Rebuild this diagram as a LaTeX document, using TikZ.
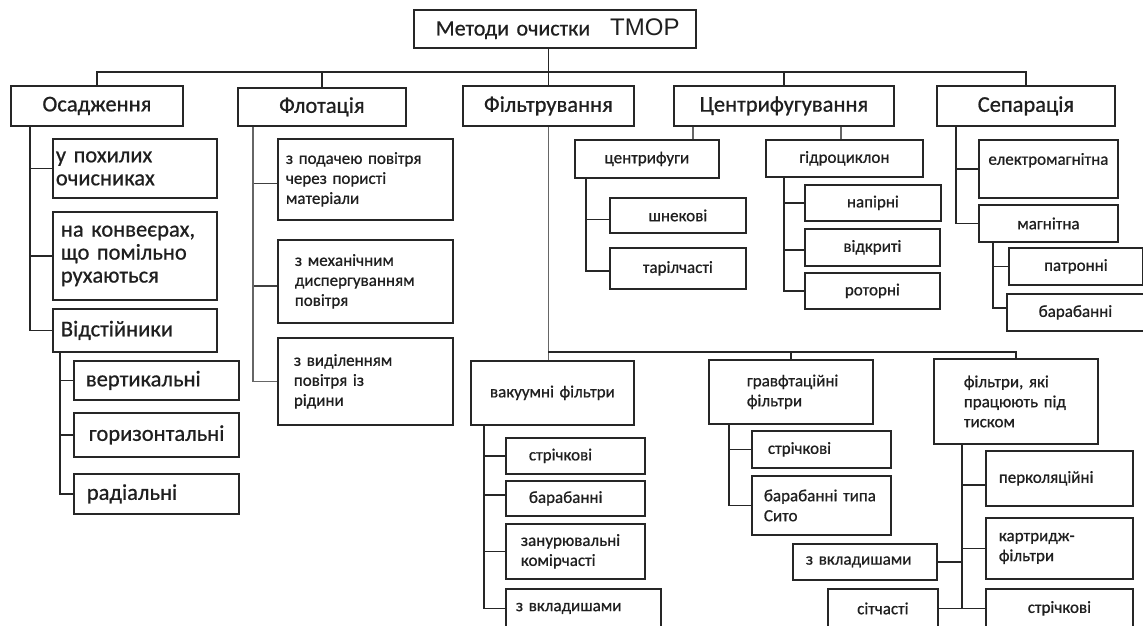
\documentclass[tikz,border=0pt]{standalone}
\usepackage{fontspec}
\setmainfont[FakeBold=0.7]{Carlito}
\newfontfamily\tmorfont{Liberation Sans}
\tikzset{
  box/.style={draw=black!85, line width=1.8pt, inner ysep=0pt, text=black!88, align=left},
  ctr/.style={align=center},
  big/.style={font=\fontsize{22.5}{23}\selectfont},
  sm/.style={font=\fontsize{17}{20}\selectfont},
  ln/.style={draw=black!85, line width=1.8pt},
  lg/.style={draw=black!60, line width=1.5pt},
}
\newcommand\mybox[8][]{%
  \pgfmathsetmacro\bxw{#5-#3}%
  \pgfmathsetmacro\bxh{#6-#4}%
  \pgfmathsetmacro\bxt{#5-#3-2*#7}%
  \node[box,#1,minimum width=\bxw pt,minimum height=\bxh pt,inner xsep=#7pt,text width=\bxt pt,anchor=north west] (#2) at (#3,#4) {#8};}
\begin{document}
\begin{tikzpicture}[x=1pt,y=-1pt]
\useasboundingbox (0,0) rectangle (1143,625);
\clip (0,0) rectangle (1143,625);
\fill[white] (0,0) rectangle (1143,625);
% top
\mybox[big]{top}{413}{9}{695}{47}{22}{\mbox{{\fontsize{22}{23}\selectfont Методи очистки}\hspace{20pt}{\tmorfont\fontsize{24}{26}\selectfont ТМОР}}}
% level 1
\mybox[big,ctr]{osad}{10}{85}{182}{125}{4}{Осадження}
\mybox[big,ctr]{flot}{237}{87}{405}{125}{4}{Флотація}
\mybox[big,ctr]{filt}{462}{85}{633}{125}{4}{Фільтрування}
\mybox[big,ctr]{centr}{673}{85}{893}{125}{2}{\mbox{Центрифугування}}
\mybox[big,ctr]{sep}{936}{85}{1114}{125}{4}{Сепарація}
% Osadzhennia
\mybox[big]{c1}{52}{138}{216}{197}{3}{\mbox{у похилих}\\очисниках}
\mybox[big]{c2}{52}{211}{216}{299}{8}{\mbox{на конвеєрах,}\\\mbox{що помільно}\\рухаються}
\mybox[big]{c3}{52}{308}{216}{351}{8}{Відстійники}
\mybox[big]{v1}{73}{360}{238}{399}{12}{вертикальні}
\mybox[big]{v2}{73}{412}{238}{456}{15}{\mbox{горизонтальні}}
\mybox[big]{v3}{73}{473}{238}{513}{13}{радіальні}
% Flotatsiia
\mybox[sm]{f1}{277}{138}{452}{219}{8}{\mbox{з подачею повітря}\\\mbox{через пористі}\\матеріали}
\mybox[sm]{f2}{277}{239}{452}{322}{17}{\mbox{з механічним}\\\mbox{диспергуванням}\\повітря}
\mybox[sm]{f3}{277}{337}{452}{424}{16}{\mbox{з виділенням}\\\mbox{повітря із}\\рідини}
% Tsentryfuguvannia
\mybox[sm,ctr]{cf}{574}{139}{718}{177}{4}{центрифуги}
\mybox[sm,ctr]{cf1}{609}{197}{745}{232}{4}{шнекові}
\mybox[sm,ctr]{cf2}{609}{247}{745}{288}{4}{тарілчасті}
\mybox[sm,ctr]{hc}{765}{139}{922}{176}{4}{гідроциклон}
\mybox[sm,ctr]{hc1}{804}{184}{940}{220}{4}{напірні}
\mybox[sm,ctr]{hc2}{804}{228}{939}{265}{4}{відкриті}
\mybox[sm,ctr]{hc3}{804}{272}{939}{308}{4}{роторні}
% Separatsiia
\mybox[sm,ctr]{s1}{978}{139}{1117}{197}{1}{\mbox{електромагнітна}\\\mbox{}}
\mybox[sm,ctr]{s2}{978}{204}{1117}{241}{4}{магнітна}
\mybox[sm,ctr]{s3}{1008}{247}{1142}{284}{4}{патронні}
\mybox[sm,ctr]{s4}{1006}{293}{1143}{330}{4}{барабанні}
% Filtruvannia
\mybox[sm,ctr]{vac}{470}{360}{633}{424}{4}{\mbox{вакуумні фільтри}}
\mybox[sm]{vc1}{505}{437}{644}{473}{23}{стрічкові}
\mybox[sm]{vc2}{505}{480}{644}{515}{23}{барабанні}
\mybox[sm]{vc3}{505}{523}{644}{578}{15}{\mbox{занурювальні}\\комірчасті}
\mybox[sm]{vc4}{505}{588}{660}{627}{10}{\mbox{з вкладишами}}
\mybox[sm]{gr}{708}{359}{872}{423}{38}{\mbox{гравфтаційні}\\фільтри}
\mybox[sm]{gc1}{751}{430}{890}{467}{16}{стрічкові}
\mybox[sm]{gc2}{751}{475}{890}{534}{12}{\mbox{барабанні типа}\\Сито}
\mybox[sm]{pr}{933}{358}{1097}{443}{30}{\mbox{фільтри, які}\\\mbox{працюють під}\\тиском}
\mybox[sm]{pc1}{985}{450}{1132}{505}{13}{\mbox{перколяційні}}
\mybox[sm]{pc2}{985}{517}{1132}{578}{13}{картридж-\\фільтри}
\mybox[sm,ctr]{pc3}{985}{588}{1132}{627}{4}{стрічкові}
\mybox[sm]{pl1}{792}{543}{936}{579}{13}{\mbox{з вкладишами}}
\mybox[sm,ctr]{pl2}{827}{588}{937}{627}{4}{сітчасті}
% ---- connectors ----
\coordinate (busy) at (0,72);
\draw[ln] (top.south -| filt.north) -- (filt.north);
\draw[ln] (osad.north) -- (osad.north |- busy) -| (sep.north);
\draw[ln] (flot.north |- busy) -- (flot.north);
\draw[ln] (centr.north |- busy) -- (centr.north);
% Osadzhennia
\coordinate (ot) at ([xshift=20pt]osad.south west);
\draw[ln] (ot) |- (c1.west);
\draw[ln] (ot) |- (c2.west);
\draw[ln] (ot) |- (c3.west);
\coordinate (vt) at ([xshift=8pt]c3.south west);
\draw[ln] (vt) |- (v1.west);
\draw[ln] (vt) |- (v2.west);
\draw[ln] (vt) |- (v3.west);
% Flotatsiia
\coordinate (ft) at ([xshift=16pt]flot.south west);
\draw[ln,draw=black!75] (ft) |- ([yshift=-4pt]f1.west);
\draw[ln,draw=black!75] (ft) |- ([yshift=-4.5pt]f2.west);
\draw[lg] (ft) |- (f3.west);
% Tsentryfuguvannia
\coordinate (ct1) at ([xshift=20pt]centr.south west);
\coordinate (ct2) at ([xshift=-54pt]centr.south east);
\draw[lg] (ct1) -- (ct1 |- cf.north);
\draw[lg] (ct2) -- (ct2 |- hc.north);
\coordinate (cft) at ([xshift=12pt]cf.south west);
\draw[ln] (cft) |- ([yshift=-4pt]cf1.west);
\draw[ln] (cft) |- ([yshift=-2.5pt]cf2.west);
\coordinate (hct) at ([xshift=19pt]hc.south west);
\draw[ln] (hct) |- (hc1.west);
\draw[ln] (hct) |- ([yshift=-2.5pt]hc2.west);
\draw[ln] (hct) |- (hc3.west);
% Separatsiia
\coordinate (st) at ([xshift=20pt]sep.south west);
\draw[ln] (st) |- (s1.west);
\draw[ln] (st) |- (s2.west);
\coordinate (mt) at ([xshift=15pt]s2.south west);
\draw[ln] (mt) |- (s3.west);
\draw[ln] (mt) |- ([yshift=4.5pt]s4.west);
% Filtruvannia
\coordinate (fbus) at ([yshift=-225pt]filt.south);
\draw[lg] (filt.south) -- (filt.south |- vac.north);
\draw[ln] (fbus) -| (pr.north);
\draw[ln] (gr.north |- fbus) -- (gr.north);
\coordinate (vt2) at ([xshift=14pt]vac.south west);
\draw[ln] (vt2) |- (vc1.west);
\draw[ln] (vt2) |- ([yshift=3.5pt]vc2.west);
\draw[ln] (vt2) |- (vc3.west);
\draw[ln] (vt2) |- (vc4.west);
\coordinate (gt) at ([xshift=21pt]gr.south west);
\draw[ln] (gt) |- (gc1.west);
\draw[ln] (gt) |- (gc2.west);
\coordinate (pt) at ([xshift=29pt]pr.south west);
\draw[ln] (pt) |- ([yshift=-6.5pt]pc1.west);
\draw[ln] (pt) |- (pc2.west);
\draw[ln] (pt) |- (pc3.west);
\draw[ln] (pl1.east) -- (pl1.east -| pt);
\draw[ln] (pl2.east) -- (pl2.east -| pt);
\end{tikzpicture}
\end{document}
